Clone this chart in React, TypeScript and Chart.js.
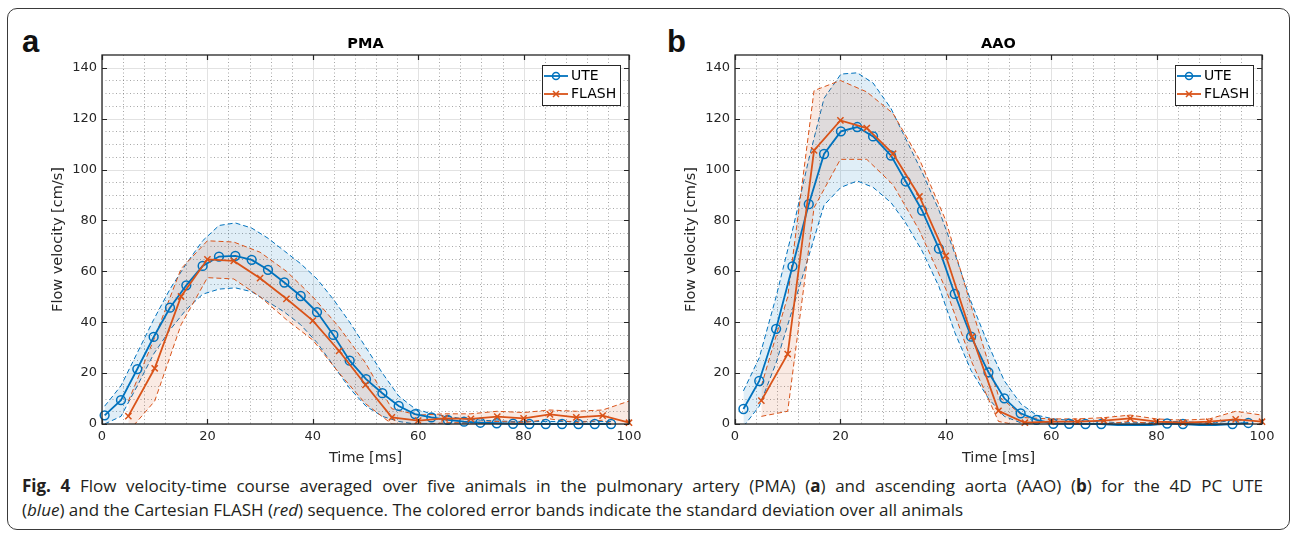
import React, { useEffect, useRef } from "react";
import { Chart, registerables } from "chart.js";

Chart.register(...registerables);
Chart.defaults.font.family = '"DejaVu Sans", sans-serif';
Chart.defaults.color = "#262626";

// ---------------- Axis ticks ----------------
const X_TICKS = [0, 20, 40, 60, 80, 100];
const Y_TICKS = [0, 20, 40, 60, 80, 100, 120, 140];
const X_MIN = 0;
const X_MAX = 100;
const Y_MIN = 0;
const Y_MAX = 145;

// ---------------- Panel a: PMA ----------------
const PMA_UTE_TIME = [0.5, 3.6, 6.7, 9.8, 12.9, 16.0, 19.1, 22.2, 25.3, 28.4, 31.5, 34.6, 37.7, 40.8, 43.9, 47.0, 50.1, 53.2, 56.3, 59.4, 62.5, 65.6, 68.7, 71.8, 74.9, 78.0, 81.1, 84.2, 87.3, 90.4, 93.5, 96.6];
const PMA_UTE_MEAN = [3.4, 9.4, 21.6, 34.2, 45.7, 54.5, 62.1, 65.8, 66.1, 64.5, 60.6, 55.6, 50.3, 44.0, 35.0, 24.9, 17.6, 12.1, 7.1, 3.9, 2.6, 1.6, 0.9, 0.5, 0.3, 0.1, 0.0, 0.0, 0.0, 0.0, 0.0, 0.0];
const PMA_UTE_UPPER = [7, 15, 28, 41, 53, 63, 72, 78, 79, 77, 73, 68, 63, 57, 49, 40, 30, 20, 11, 6, 4, 3, 2, 1.5, 1.2, 1, 1, 1, 1, 1, 1, 1];
const PMA_UTE_LOWER = [0, 3, 15, 27.5, 37, 45, 51, 53, 53.5, 52, 48, 44, 39, 32, 23, 14, 7, 3, 1, 0, 0, 0, 0, 0, 0, -0.5, -1, -1, -1, -1, -1, -1];
const PMA_FLASH_TIME = [5, 10, 15, 20, 25, 30, 35, 40, 45, 50, 55, 60, 65, 70, 75, 80, 85, 90, 95, 100];
const PMA_FLASH_MEAN = [3.1, 21.9, 50.1, 64.7, 64.1, 57.3, 49.2, 40.6, 28.7, 15.4, 2.6, 1.3, 2.2, 2.0, 2.9, 2.2, 3.8, 2.6, 3.3, 0.5];
const PMA_FLASH_UPPER = [9, 34, 61, 72, 71.5, 67.5, 60, 50, 38, 24, 6, 3.5, 4, 4, 5, 4.5, 5.5, 5, 5.5, 9];
const PMA_FLASH_LOWER = [-3, 9, 39, 57.5, 57, 50, 41, 33, 20, 8, 0, -0.5, 0.5, 0.5, 1, 0.5, 2, 0.5, 1.5, -3];

// ---------------- Panel b: AAO ----------------
const AAO_UTE_TIME = [1.6, 4.6, 7.8, 10.9, 14.0, 16.9, 20.1, 23.2, 26.2, 29.6, 32.4, 35.5, 38.7, 41.7, 44.8, 48.1, 51.1, 54.2, 57.2, 60.4, 63.4, 66.5, 69.5, 72.6, 75.7, 78.8, 82.0, 85.0, 88.1, 91.2, 94.4, 97.4];
const AAO_UTE_MEAN = [5.9, 16.9, 37.4, 61.9, 86.4, 106.1, 115.0, 116.7, 113.0, 105.5, 95.3, 83.9, 68.9, 51.1, 34.3, 20.3, 10.1, 4.2, 1.6, 0.1, 0.1, 0.0, 0.0, -0.4, -0.4, -0.4, 0.2, 0.0, -0.4, -0.4, 0.0, 0.4];
const AAO_UTE_UPPER = [13, 26, 50, 76, 104, 128, 137.5, 138, 134, 124, 112, 99, 84, 67, 48, 31, 17, 8, 3.5, 2, 1.5, 1, 1, 0.5, 0.5, 0.5, 1, 1, 0.5, 0.5, 1.5, 1.5];
const AAO_UTE_LOWER = [-1, 7, 24, 45, 66, 86, 93, 95.5, 93, 87, 79, 68, 54, 36, 21, 10, 3, 0.5, -0.5, -2, -2, -1.5, -1.5, -1.5, -1.5, -1.5, -1, -1, -1.5, -1.5, -1, -1];
const AAO_FLASH_TIME = [5, 10, 15, 20, 25, 30, 35, 40, 45, 50, 55, 60, 65, 70, 75, 80, 85, 90, 95, 100];
const AAO_FLASH_MEAN = [9.2, 27.5, 107.5, 119.3, 116.3, 106.2, 89.4, 66.1, 34.3, 5.2, 0.5, 0.9, 0.9, 1.3, 2.2, 0.9, 0.5, 0.9, 1.8, 0.9];
const AAO_FLASH_UPPER = [15, 50, 131, 135, 130.5, 122, 104, 80, 45, 11, 2.5, 2, 2, 2.5, 3.5, 2, 1.5, 2, 5, 3.5];
const AAO_FLASH_LOWER = [3, 5, 85, 104, 104, 94, 76, 53, 24, 1, -1, 0, 0, 0, 1, 0, -0.5, 0, -1, -1.5];

// ---------------- Styles ----------------
const BLUE = "#0072BD";
const RED = "#D95319";
const BLUE_FILL = "rgba(0,114,189,0.12)";
const RED_FILL = "rgba(217,83,25,0.12)";
const AXIS_COLOR = "#262626";

type Series = { time: number[]; mean: number[]; upper: number[]; lower: number[] };

const toPoints = (t: number[], v: number[]) => t.map((x, i) => ({ x, y: v[i] }));

const matlabAxes = {
  id: "matlabAxes",
  beforeDatasetsDraw(chart: any) {
    const { ctx, chartArea } = chart;
    const { left, right, top, bottom } = chartArea;
    const xs = chart.scales.x;
    const ys = chart.scales.y;
    ctx.save();
    // minor dotted grid
    ctx.lineWidth = 1;
    ctx.strokeStyle = "rgba(60,60,60,0.45)";
    ctx.setLineDash([1, 2.5]);
    for (let v = X_MIN + 4; v < X_MAX; v += 4) {
      if (v % 20 === 0) continue;
      const px = Math.round(xs.getPixelForValue(v)) + 0.5;
      ctx.beginPath();
      ctx.moveTo(px, top);
      ctx.lineTo(px, bottom);
      ctx.stroke();
    }
    for (let v = Y_MIN + 5; v < Y_MAX; v += 5) {
      if (v % 20 === 0) continue;
      const py = Math.round(ys.getPixelForValue(v)) + 0.5;
      ctx.beginPath();
      ctx.moveTo(left, py);
      ctx.lineTo(right, py);
      ctx.stroke();
    }
    // major solid grid
    ctx.setLineDash([]);
    ctx.strokeStyle = "#e2e2e2";
    X_TICKS.forEach((v) => {
      const px = Math.round(xs.getPixelForValue(v)) + 0.5;
      ctx.beginPath();
      ctx.moveTo(px, top);
      ctx.lineTo(px, bottom);
      ctx.stroke();
    });
    Y_TICKS.forEach((v) => {
      const py = Math.round(ys.getPixelForValue(v)) + 0.5;
      ctx.beginPath();
      ctx.moveTo(left, py);
      ctx.lineTo(right, py);
      ctx.stroke();
    });
    ctx.restore();
  },
  afterDatasetsDraw(chart: any) {
    const { ctx, chartArea } = chart;
    const { left, right, top, bottom } = chartArea;
    const xs = chart.scales.x;
    const ys = chart.scales.y;
    ctx.save();
    ctx.setLineDash([]);
    ctx.strokeStyle = AXIS_COLOR;
    ctx.lineWidth = 1.3;
    ctx.strokeRect(left, top, right - left, bottom - top);
    const tl = 5;
    ctx.lineWidth = 1.2;
    X_TICKS.forEach((v) => {
      const px = Math.round(xs.getPixelForValue(v)) + 0.5;
      ctx.beginPath();
      ctx.moveTo(px, bottom);
      ctx.lineTo(px, bottom - tl);
      ctx.moveTo(px, top);
      ctx.lineTo(px, top + tl);
      ctx.stroke();
    });
    Y_TICKS.forEach((v) => {
      const py = Math.round(ys.getPixelForValue(v)) + 0.5;
      ctx.beginPath();
      ctx.moveTo(left, py);
      ctx.lineTo(left + tl, py);
      ctx.moveTo(right, py);
      ctx.lineTo(right - tl, py);
      ctx.stroke();
    });

    // legend box
    const bw = 78;
    const bh = 40;
    const bx = right - 9 - bw;
    const by = top + 10;
    ctx.fillStyle = "#ffffff";
    ctx.fillRect(bx, by, bw, bh);
    ctx.lineWidth = 1;
    ctx.strokeStyle = AXIS_COLOR;
    ctx.strokeRect(bx + 0.5, by + 0.5, bw, bh);
    const items = chart.data.datasets.filter((d: any) => d.label);
    items.forEach((d: any, i: number) => {
      const cy = by + 11 + i * 18;
      ctx.strokeStyle = d.borderColor;
      ctx.lineWidth = 1.8;
      ctx.beginPath();
      ctx.moveTo(bx + 2, cy);
      ctx.lineTo(bx + 26, cy);
      ctx.stroke();
      ctx.lineWidth = 1.5;
      const mx = bx + 14;
      if (d.pointStyle === "circle") {
        ctx.beginPath();
        ctx.arc(mx, cy, 3.5, 0, Math.PI * 2);
        ctx.stroke();
      } else {
        ctx.beginPath();
        ctx.moveTo(mx - 3, cy - 3);
        ctx.lineTo(mx + 3, cy + 3);
        ctx.moveTo(mx + 3, cy - 3);
        ctx.lineTo(mx - 3, cy + 3);
        ctx.stroke();
      }
      ctx.fillStyle = "#000";
      ctx.font = '14px "DejaVu Sans", sans-serif';
      ctx.textBaseline = "middle";
      ctx.textAlign = "left";
      ctx.fillText(d.label, bx + 29, cy + 0.5);
    });
    ctx.restore();
  },
};

function Panel({ title, ute, flash, left }: { title: string; ute: Series; flash: Series; left: number }) {
  const ref = useRef<HTMLCanvasElement>(null);
  useEffect(() => {
    const markerRadius = (c: any) => (c.raw && c.raw.y < 0 ? 0 : 4.4);
    const band = (s: Series, color: string, fillColor: string, order: number) => [
      {
        label: "",
        data: toPoints(s.time, s.upper),
        borderColor: color,
        borderWidth: 1,
        borderDash: [5, 3],
        pointRadius: 0,
        fill: "+1",
        backgroundColor: fillColor,
        order,
      },
      {
        label: "",
        data: toPoints(s.time, s.lower),
        borderColor: color,
        borderWidth: 1,
        borderDash: [5, 3],
        pointRadius: 0,
        fill: false,
        order,
      },
    ];
    const chart = new Chart(ref.current as HTMLCanvasElement, {
      type: "line",
      data: {
        datasets: [
          ...band(ute, BLUE, BLUE_FILL, 3),
          ...band(flash, RED, RED_FILL, 2),
          {
            label: "UTE",
            data: toPoints(ute.time, ute.mean),
            borderColor: BLUE,
            borderWidth: 1.8,
            pointStyle: "circle",
            pointRadius: markerRadius,
            pointBorderWidth: 1.5,
            pointBorderColor: BLUE,
            pointBackgroundColor: "rgba(0,0,0,0)",
            fill: false,
            order: 1,
            clip: { left: 8, right: 8, top: 0, bottom: 7 },
          },
          {
            label: "FLASH",
            data: toPoints(flash.time, flash.mean),
            borderColor: RED,
            borderWidth: 1.8,
            pointStyle: "crossRot",
            pointRadius: markerRadius,
            pointBorderWidth: 1.5,
            pointBorderColor: RED,
            pointBackgroundColor: RED,
            fill: false,
            order: 0,
            clip: { left: 8, right: 8, top: 0, bottom: 7 },
          },
        ] as any,
      },
      options: {
        responsive: false,
        animation: false,
        events: [],
        layout: { padding: { left: 0, top: 0, right: 21, bottom: 0 } },
        elements: { line: { tension: 0 } },
        plugins: {
          legend: { display: false },
          tooltip: { enabled: false },
          title: {
            display: true,
            text: title,
            fullSize: false,
            color: "#000",
            font: { size: 14.5, weight: "bold" },
            padding: { top: 7.5, bottom: 2.1 },
          },
        },
        scales: {
          x: {
            type: "linear",
            min: X_MIN,
            max: X_MAX,
            afterBuildTicks: (s: any) => {
              s.ticks = X_TICKS.map((value) => ({ value }));
            },
            afterFit: (s: any) => {
              s.height = 48;
            },
            grid: { display: false, drawTicks: false },
            border: { display: false },
            ticks: { autoSkip: false, maxRotation: 0, padding: 5, font: { size: 13 }, color: AXIS_COLOR },
            title: {
              display: true,
              text: "Time [ms]",
              color: AXIS_COLOR,
              font: { size: 14.5 },
              padding: { top: 0, bottom: 5 },
            },
          },
          y: {
            type: "linear",
            min: Y_MIN,
            max: Y_MAX,
            afterBuildTicks: (s: any) => {
              s.ticks = Y_TICKS.map((value) => ({ value }));
            },
            afterFit: (s: any) => {
              s.width = 62;
            },
            grid: { display: false, drawTicks: false },
            border: { display: false },
            ticks: { padding: 5, font: { size: 13 }, color: AXIS_COLOR },
            title: {
              display: true,
              text: "Flow velocity [cm/s]",
              color: AXIS_COLOR,
              font: { size: 14.5 },
              padding: { top: 9.5, bottom: 0 },
            },
          },
        },
      } as any,
      plugins: [matlabAxes],
    });
    return () => chart.destroy();
  }, []);
  return (
    <canvas
      ref={ref}
      width={610}
      height={444}
      style={{ position: "absolute", left, top: 28, width: 610, height: 444 }}
    />
  );
}

const PMA_UTE: Series = { time: PMA_UTE_TIME, mean: PMA_UTE_MEAN, upper: PMA_UTE_UPPER, lower: PMA_UTE_LOWER };
const PMA_FLASH: Series = { time: PMA_FLASH_TIME, mean: PMA_FLASH_MEAN, upper: PMA_FLASH_UPPER, lower: PMA_FLASH_LOWER };
const AAO_UTE: Series = { time: AAO_UTE_TIME, mean: AAO_UTE_MEAN, upper: AAO_UTE_UPPER, lower: AAO_UTE_LOWER };
const AAO_FLASH: Series = { time: AAO_FLASH_TIME, mean: AAO_FLASH_MEAN, upper: AAO_FLASH_UPPER, lower: AAO_FLASH_LOWER };

const panelLetter: React.CSSProperties = {
  position: "absolute",
  top: 26,
  font: 'bold 31px "Liberation Sans", Arial, sans-serif',
  lineHeight: "31px",
  color: "#111",
};

const captionLine: React.CSSProperties = {
  position: "absolute",
  left: 22,
  font: '17px "Open Sans", sans-serif',
  lineHeight: "24px",
  color: "#231f20",
};

export default function App() {
  return (
    <div style={{ position: "relative", width: 1295, height: 535, background: "#fff", overflow: "hidden" }}>
      <style>{`body{margin:0;}`}</style>
      <div
        style={{
          position: "absolute",
          left: 7,
          top: 8,
          width: 1283,
          height: 522,
          border: "1.5px solid #3a3a3a",
          borderRadius: 10,
          boxSizing: "border-box",
        }}
      />
      <div style={{ ...panelLetter, left: 22 }}>a</div>
      <div style={{ ...panelLetter, left: 667 }}>b</div>
      <Panel title="PMA" ute={PMA_UTE} flash={PMA_FLASH} left={40} />
      <Panel title="AAO" ute={AAO_UTE} flash={AAO_FLASH} left={673} />
      <div style={{ ...captionLine, top: 474, width: 1241, textAlign: "justify", textAlignLast: "justify" }}>
        <b>Fig. 4</b> Flow velocity-time course averaged over five animals in the pulmonary artery (PMA) (<b>a</b>) and
        ascending aorta (AAO) (<b>b</b>) for the 4D PC UTE
      </div>
      <div style={{ ...captionLine, top: 498, whiteSpace: "nowrap" }}>
        (<i>blue</i>) and the Cartesian FLASH (<i>red</i>) sequence. The colored error bands indicate the standard
        deviation over all animals
      </div>
    </div>
  );
}
